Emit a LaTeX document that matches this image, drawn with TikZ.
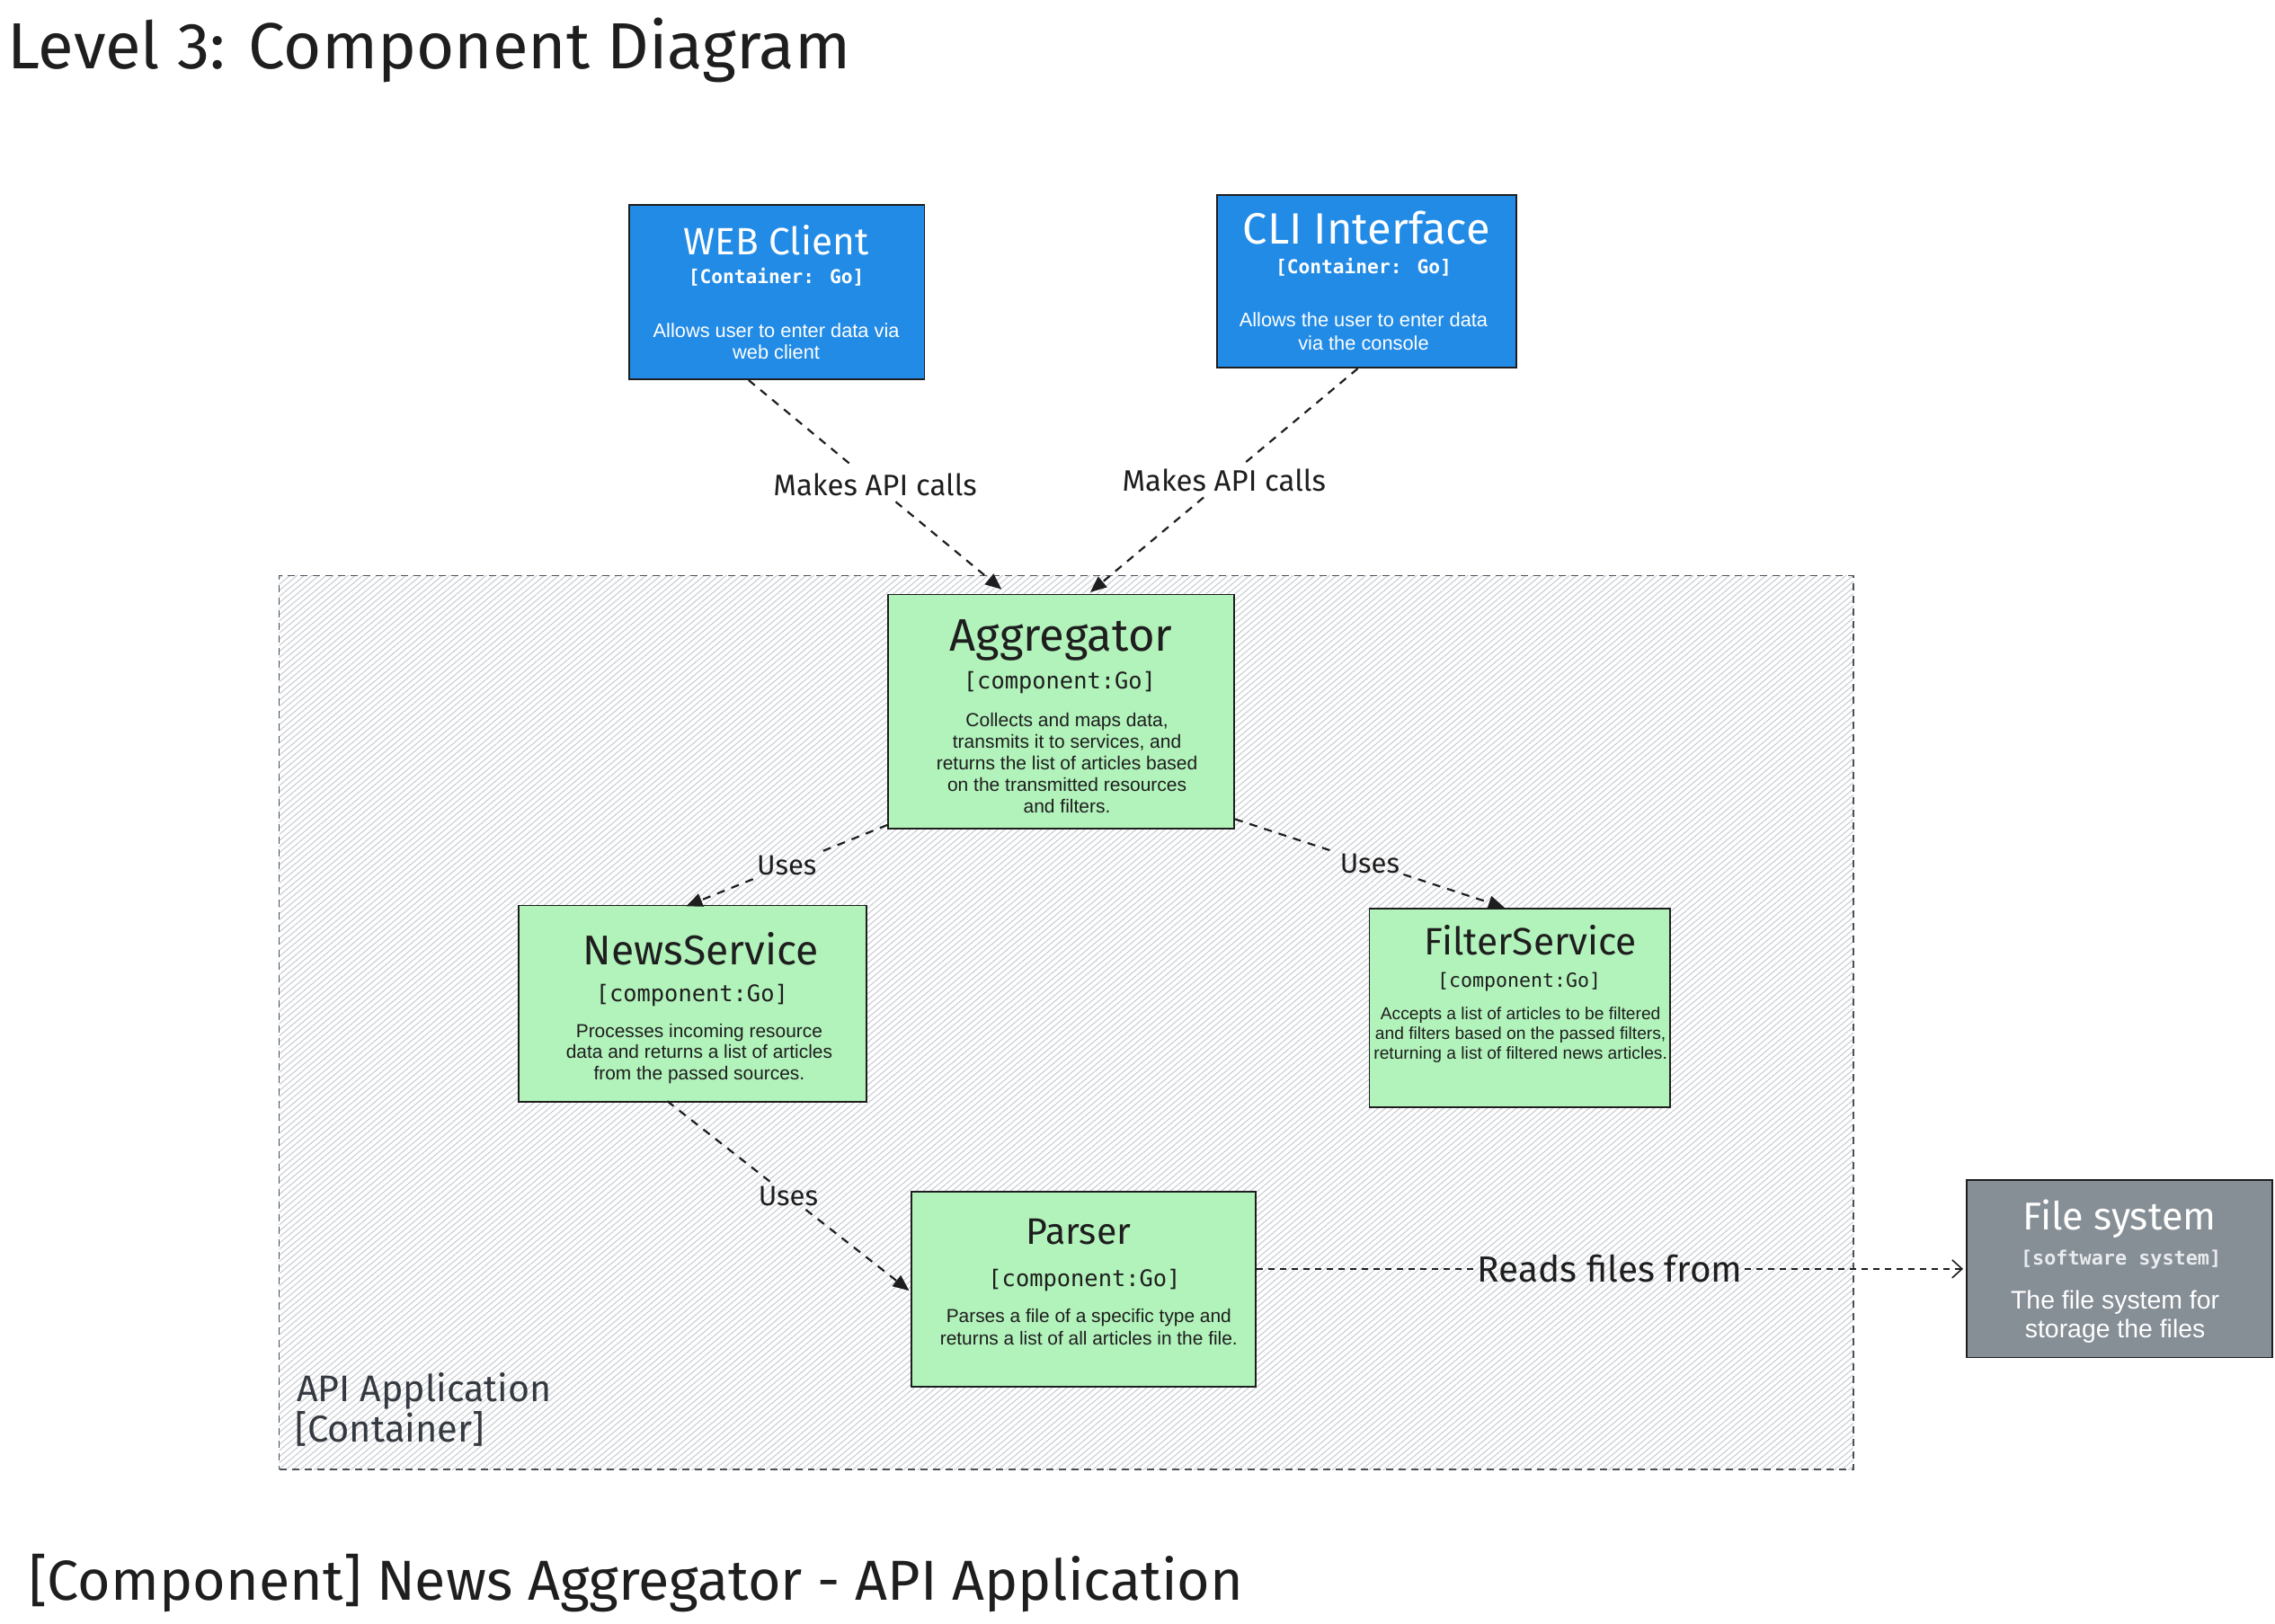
\documentclass[tikz,border=0pt]{standalone}
\usepackage{fontspec}
\setmainfont{Liberation Sans}
\newfontfamily\hand{Fira Sans}
\newfontfamily\monof{DejaVu Sans Mono}
\usetikzlibrary{arrows.meta,patterns.meta,calc}
\definecolor{ink}{HTML}{1E1E1E}
\definecolor{exblue}{HTML}{228BE6}
\definecolor{exgreen}{HTML}{B2F2BB}
\definecolor{exgray}{HTML}{868E96}
\definecolor{hatchc}{HTML}{C9CED3}
\definecolor{bordgray}{HTML}{495057}
\definecolor{labgray}{HTML}{343A40}
\definecolor{lightw}{HTML}{E9ECEF}
\newdimen\ud \ud=0.80865pt
\newcommand\hw[2]{\resizebox{#1\ud}{!}{\hand\fontsize{20}{24}\selectfont #2}}
\tikzset{
  box/.style={draw=ink, line width=0.9pt, inner sep=0pt},
  bluebox/.style={box, fill=exblue},
  greenbox/.style={box, fill=exgreen},
  graybox/.style={box, fill=exgray},
  txt/.style={inner sep=0pt, text=ink},
  htitle/.style={txt, anchor=base},
  monotag/.style={txt, anchor=base},
  desc/.style={txt, align=center},
  container/.style={draw=bordgray, line width=0.7pt, dash pattern=on 4pt off 3pt,
     pattern={Lines[angle=40,distance=2.6pt,line width=0.55pt]}, pattern color=hatchc, inner sep=0pt},
  elabel/.style={inner sep=3pt, text=ink},
  conn/.style={draw=ink, line width=1.1pt, dash pattern=on 4.5pt off 4pt},
  arr/.style={-{Triangle[length=9pt,width=7.5pt]}},
  conn2/.style={draw=ink, line width=0.8pt, dash pattern=on 3.5pt off 3pt},
  arr2/.style={-{Straight Barb[length=5.5pt,width=10pt,line width=0.8pt]}},
}
\begin{document}
\begin{tikzpicture}[x=0.80865pt, y=-0.80865pt]
\useasboundingbox[fill=white] (0,0) rectangle (1565,1117.29);

% titles
\node[txt, anchor=base west] (title) at (5,47) {\hw{580}{Level 3: Component Diagram}};
\node[txt, anchor=base west] (foot) at (20,1101) {\hw{835}{[Component] News Aggregator - API Application}};

% container
\node[container, minimum width=1083\ud, minimum height=615\ud] (app) at (733.5,703.5) {};
\node[txt, anchor=base west, text=labgray] (appl1) at (204,964) {\hw{175}{API Application}};
\node[txt, anchor=base west, text=labgray] (appl2) at (203,992) {\hw{130}{[Container]}};

% boxes
\node[bluebox, minimum width=203\ud, minimum height=120\ud] (web) at (534.5,201) {};
\node[bluebox, minimum width=206\ud, minimum height=119\ud] (cli) at (940,193.5) {};
\node[greenbox, minimum width=238\ud, minimum height=161\ud] (agg) at (730,489.5) {};
\node[greenbox, minimum width=239\ud, minimum height=135\ud] (news) at (476.5,690.5) {};
\node[greenbox, minimum width=207\ud, minimum height=137\ud] (filter) at (1045.5,693.5) {};
\node[greenbox, minimum width=237\ud, minimum height=134\ud] (parser) at (745.5,887) {};
\node[graybox, minimum width=210\ud, minimum height=122\ud] (fs) at (1458,873) {};

% WEB client texts
\node[htitle, text=white] (webt) at (534,175) {\hw{127}{WEB Client}};
\node[monotag, text=white, font=\monof\bfseries\fontsize{10.6}{12}\selectfont] (webm) at (534,195) {[Container: Go]};
\node[desc, text=white, font=\fontsize{10.9}{12.1}\selectfont] (webd) at (534,235) {Allows user to enter data via\\web client};

% CLI texts
\node[htitle, text=white] (clit) at (940,168) {\hw{170}{CLI Interface}};
\node[monotag, text=white, font=\monof\bfseries\fontsize{10.6}{12}\selectfont] (clim) at (938,188) {[Container: Go]};
\node[desc, text=white, font=\fontsize{10.9}{12.9}\selectfont] (clid) at (938,228) {Allows the user to enter data\\via the console};

% Aggregator texts
\node[htitle] (aggt) at (730,448) {\hw{153}{Aggregator}};
\node[monotag, font=\monof\fontsize{12.7}{14}\selectfont] (aggm) at (729,474) {[component:Go]};
\node[desc, font=\fontsize{10.5}{11.9}\selectfont] (aggd) at (734,525) {Collects and maps data,\\transmits it to services, and\\returns the list of articles based\\on the transmitted resources\\and filters.};

% NewsService texts
\node[htitle] (newst) at (482,664) {\hw{162}{NewsService}};
\node[monotag, font=\monof\fontsize{12.7}{14}\selectfont] (newsm) at (476,689) {[component:Go]};
\node[desc, font=\fontsize{10.45}{11.7}\selectfont] (newsd) at (481,725) {Processes incoming resource\\data and returns a list of articles\\from the passed sources.};

% FilterService texts
\node[htitle] (filtert) at (1053,657) {\hw{146}{FilterService}};
\node[monotag, font=\monof\fontsize{10.8}{12}\selectfont] (filterm) at (1045,679) {[component:Go]};
\node[desc, font=\fontsize{9.6}{10.9}\selectfont] (filterd) at (1046,712) {Accepts a list of articles to be filtered\\and filters based on the passed filters,\\returning a list of filtered news articles.};

% Parser texts
\node[htitle] (parsert) at (742,856) {\hw{72}{Parser}};
\node[monotag, font=\monof\fontsize{12.7}{14}\selectfont] (parserm) at (746,885) {[component:Go]};
\node[desc, font=\fontsize{10.45}{12.1}\selectfont] (parserd) at (749,913) {Parses a file of a specific type and\\returns a list of all articles in the file.};

% File system texts
\node[htitle, text=white] (fst) at (1458,846) {\hw{133}{File system}};
\node[monotag, text=lightw, font=\monof\bfseries\fontsize{10.9}{12}\selectfont] (fsm) at (1459,870) {[software system]};
\node[desc, text=white, font=\fontsize{14.2}{15.8}\selectfont] (fsd) at (1455,906) {The file system for\\storage the files};

% connectors
\coordinate (e1s) at ([xshift=-19.5\ud]web.south);
\coordinate (e1e) at ([xshift=-41\ud,yshift=3\ud]agg.north);
\coordinate (e2s) at ([xshift=-6\ud]cli.south);
\coordinate (e2e) at ([xshift=20\ud,yshift=1\ud]agg.north);
\coordinate (e3s) at ([yshift=3\ud]agg.south west);
\coordinate (e3e) at ([xshift=-4.5\ud,yshift=-1\ud]news.north);
\coordinate (e4s) at ([yshift=7\ud]agg.south east);
\coordinate (e4e) at ([xshift=-10.5\ud]filter.north);
\coordinate (e5s) at ([xshift=-17.5\ud,yshift=1\ud]news.south);
\coordinate (e5e) at ([xshift=-1\ud,yshift=-1\ud]parser.west);
\coordinate (e6s) at ([yshift=14\ud]parser.east);
\coordinate (e6e) at ([xshift=-2\ud]fs.west);

\path (e1s) -- (e1e) node[elabel, pos=0.5] (l1) {\hw{140}{Makes API calls}};
\path (e2s) -- (e2e) node[elabel, pos=0.5] (l2) {\hw{140}{Makes API calls}};
\path (e3s) -- (e3e) node[elabel, pos=0.5, inner sep=2pt] (l3) {\hw{41}{Uses}};
\path (e4s) -- (e4e) node[elabel, pos=0.5, inner sep=2pt] (l4) {\hw{41}{Uses}};
\path (e5s) -- (e5e) node[elabel, pos=0.5, inner sep=2pt] (l5) {\hw{41}{Uses}};
\path (e6s) -- (e6e) node[elabel, pos=0.5, inner sep=1pt] (l6) {\hw{182}{Reads files from}};

\draw[conn] (e1s) -- (l1);
\draw[conn, arr] (l1) -- (e1e);
\draw[conn] (e2s) -- (l2);
\draw[conn, arr] (l2) -- (e2e);
\draw[conn] (e3s) -- (l3);
\draw[conn, arr] (l3) -- (e3e);
\draw[conn] (e4s) -- (l4);
\draw[conn, arr] (l4) -- (e4e);
\draw[conn] (e5s) -- (l5);
\draw[conn, arr] (l5) -- (e5e);
\draw[conn2] (e6s) -- (l6);
\draw[conn2, arr2] (l6) -- (e6e);
\end{tikzpicture}
\end{document}
